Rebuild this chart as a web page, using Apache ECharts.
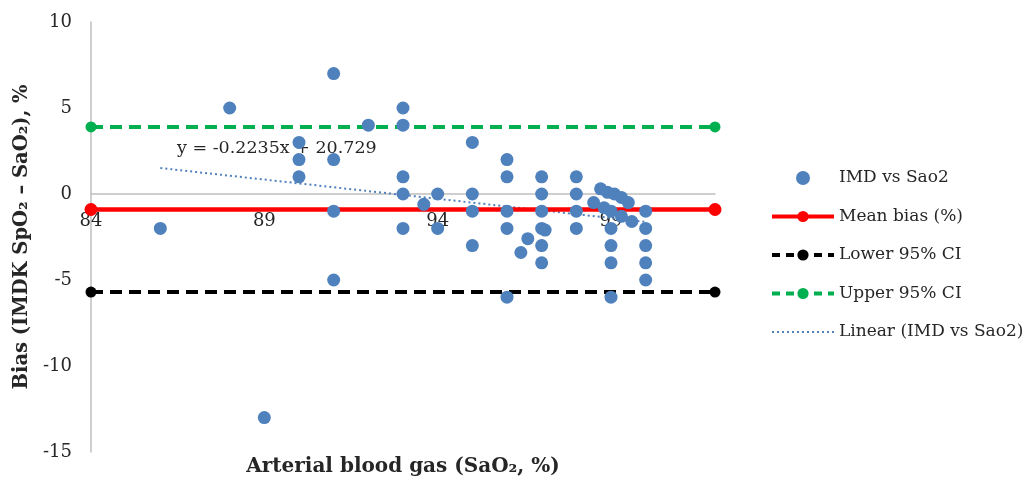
<!DOCTYPE html>
<html><head><meta charset="utf-8">
<script src="https://cdn.jsdelivr.net/npm/echarts@6/dist/echarts.min.js"></script>
<style>html,body{margin:0;padding:0;background:#fff}#c{width:1029px;height:481px}</style>
</head><body><div id="c"></div>
<script>
// ---- data ----
const xTickLabels = [84, 89, 94, 99];
const yTickLabels = [-15, -10, -5, 0, 5, 10];
const seriesNames = ['IMD vs Sao2', 'Mean bias (%)', 'Lower 95% CI', 'Upper 95% CI', 'Linear (IMD vs Sao2)'];
const sao2 = [86, 88, 89, 90, 90, 90, 91, 91, 91, 91, 92, 93, 93, 93, 93, 93, 93.6, 94, 94,
  95, 95, 95, 95, 96, 96, 96, 96, 96, 96.4, 96.6, 97, 97, 97, 97, 97.1, 97, 97,
  98, 98, 98, 98, 98.5, 98.7, 98.9, 99.1, 99.3, 99.5, 98.8, 99, 99.3, 99.6, 99, 99, 99, 99,
  100, 100, 100, 100, 100];
const bias = [-2, 5, -13, 3, 2, 1, 7, 2, -1, -5, 4, 5, 4, 1, 0, -2, -0.6, 0, -2,
  3, 0, -1, -3, 2, 1, -1, -2, -6, -3.4, -2.6, 1, 0, -1, -2, -2.1, -3, -4,
  1, 0, -1, -2, -0.5, 0.3, 0.1, 0, -0.2, -0.5, -0.8, -1, -1.3, -1.6, -2, -3, -4, -6,
  -1, -2, -3, -4, -5];
const meanBias = -0.9;
const upperCI = 3.9;
const lowerCI = -5.7;
const refLineX = [84, 102];
const trendX = [86, 100];
const trendY = [1.51, -1.62];
const equationText = 'y = -0.2235x + 20.729';

// ---- chart ----
const FONT = 'DejaVu Serif';
const TXT = '#262626';
const chart = echarts.init(document.getElementById('c'), null, {renderer: 'canvas'});
const pts = sao2.map((x, i) => [x, bias[i]]);
const hline = v => refLineX.map(x => [x, v]);
const legendLine = [null, {width: 4, type: 'solid'}, {width: 4, type: [8, 6]}, {width: 4, type: [8, 6]}, {width: 2, type: [2, 3]}];

chart.setOption({
  animation: false,
  backgroundColor: '#fff',
  textStyle: {fontFamily: FONT, color: TXT},
  grid: {left: 91, right: 314, top: 22, bottom: 29, containLabel: false},
  xAxis: {
    type: 'value', min: 84, max: 102, interval: 5,
    axisLine: {onZero: true, lineStyle: {color: '#BFBFBF', width: 1.5}},
    axisTick: {show: false}, splitLine: {show: false},
    axisLabel: {fontFamily: FONT, fontSize: 18, color: TXT, margin: -240,
      formatter: v => xTickLabels.includes(v) ? String(v) : ''}
  },
  yAxis: {
    type: 'value', min: -15, max: 10, interval: 5,
    axisLine: {show: true, lineStyle: {color: '#BFBFBF', width: 1.5}},
    axisTick: {show: false}, splitLine: {show: false},
    axisLabel: {fontFamily: FONT, fontSize: 18, color: TXT, margin: 19,
      formatter: v => yTickLabels.includes(v) ? String(v) : ''},
    name: 'Bias (IMDK SpO\u2082 \u2013 SaO\u2082), %', nameLocation: 'middle', nameRotate: 90, nameGap: 59,
    nameTextStyle: {fontFamily: FONT, fontSize: 19.5, fontWeight: 'bold', color: TXT}
  },
  legend: {
    orient: 'vertical', left: 765, top: 163, itemWidth: 62, itemHeight: 14, itemGap: 18.5,
    data: seriesNames.map((n, i) => {
      const d = {name: n};
      if (legendLine[i]) d.lineStyle = legendLine[i];
      if (i === 4) d.itemStyle = {opacity: 0};
      return d;
    }),
    textStyle: {fontFamily: FONT, fontSize: 17, color: TXT, lineHeight: 20}
  },
  graphic: [
    {type: 'text', x: 403, y: 467, style: {text: 'Arterial blood gas (SaO\u2082, %)', font: 'bold 20px "DejaVu Serif"', fill: TXT, textAlign: 'center', textVerticalAlign: 'middle'}},
    {type: 'text', x: 177, y: 148, style: {text: equationText, font: '17.5px "DejaVu Serif"', fill: TXT, textAlign: 'left', textVerticalAlign: 'middle'}}
  ],
  series: [
    {name: seriesNames[0], type: 'scatter', data: pts, symbol: 'circle', symbolSize: 13,
      itemStyle: {color: '#4F81BD', opacity: 1}, z: 5},
    {name: seriesNames[1], type: 'line', data: hline(meanBias), symbol: 'circle', symbolSize: 13,
      lineStyle: {color: '#FF0000', width: 4.5}, itemStyle: {color: '#FF0000'}, clip: false, z: 3},
    {name: seriesNames[2], type: 'line', data: hline(lowerCI), symbol: 'circle', symbolSize: 11,
      lineStyle: {color: '#000000', width: 4, type: [12, 7]}, itemStyle: {color: '#000000'}, clip: false, z: 3},
    {name: seriesNames[3], type: 'line', data: hline(upperCI), symbol: 'circle', symbolSize: 11,
      lineStyle: {color: '#00B050', width: 4, type: [12, 7]}, itemStyle: {color: '#00B050'}, clip: false, z: 3},
    {name: seriesNames[4], type: 'line', data: trendX.map((x, i) => [x, trendY[i]]), symbol: 'none', showSymbol: false,
      lineStyle: {color: '#4F81BD', width: 2, type: [2, 3]}, itemStyle: {color: '#4F81BD'}, z: 2}
  ]
});
</script></body></html>
